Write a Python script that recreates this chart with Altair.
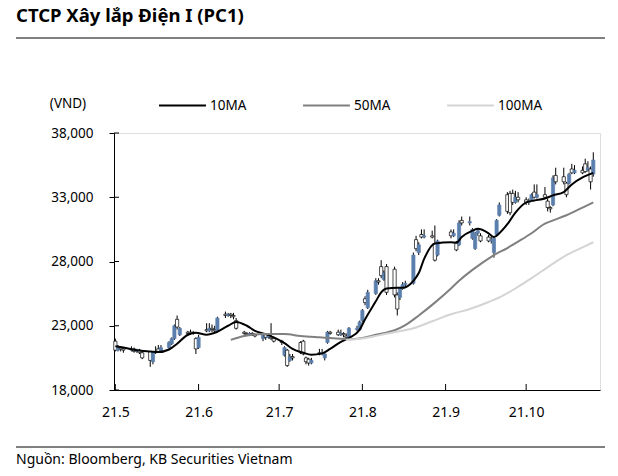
import altair as alt
import pandas as pd
import numpy as np

# ---------------- data (prices in thousand VND) ----------------
holidays = ["2021-09-02", "2021-09-03"]

opens = [
    # May
    21.8, 21.1, 21.3, 21.2, 21.1, 21.2, 21.0, 21.1, 20.9, 21.0, 20.2, 20.9, 21.2, 21.0, 21.3, 21.6, 22.0, 23.5, 22.3, 22.5,
    # June
    22.5, 22.4, 22.0, 21.3, 22.7, 22.6, 22.8, 22.7, 22.6, 23.9, 23.8, 23.9, 23.8, 23.4, 22.5, 22.4, 22.3, 22.4, 22.3, 22.0, 22.3, 22.1,
    # July
    22.1, 22.0, 21.8, 20.7, 21.1, 20.3, 20.6, 21.7, 21.8, 20.5, 20.4, 20.1, 20.9, 20.8, 20.5, 21.7, 22.5, 22.5, 22.3, 22.4, 22.2, 22.1,
    # August
    22.7, 22.7, 23.4, 25.1, 24.4, 25.5, 26.5, 27.6, 26.6, 27.6, 27.4, 25.4, 25.2, 25.9, 26.2, 26.3, 29.7, 28.7, 30.1, 29.9, 30.0, 29.4,
    # September
    28.5, 30.3, 30.0, 29.5, 29.3, 31.2, 31.0, 29.8, 29.0, 30.2, 30.0, 29.9, 29.6, 28.7, 30.1, 31.6, 33.2, 33.3, 33.3, 32.6,
    # October
    33.0, 32.8, 32.6, 32.8, 33.4, 33.0, 33.2, 32.7, 32.2, 32.4, 34.7, 34.6, 34.1, 34.1, 35.2, 34.9, 35.1, 35.6, 35.1, 35.2, 34.8,
]
closes = [
    21.1, 21.3, 21.2, 21.1, 21.2, 21.0, 21.1, 20.9, 20.5, 20.3, 20.9, 21.0, 21.0, 21.3, 21.7, 22.0, 23.0, 22.9, 22.8, 22.4,
    22.4, 22.5, 21.2, 22.1, 22.6, 22.8, 22.7, 22.6, 23.6, 23.8, 23.9, 23.8, 23.7, 22.8, 22.4, 22.3, 22.4, 22.3, 22.2, 22.3, 22.1, 22.2,
    22.0, 21.8, 21.7, 21.3, 19.9, 20.6, 20.5, 20.9, 20.8, 20.2, 20.1, 20.3, 20.8, 20.9, 20.8, 22.5, 22.4, 22.3, 22.4, 22.3, 22.1, 22.8,
    22.8, 23.3, 24.2, 24.8, 25.6, 26.5, 26.4, 26.9, 27.1, 25.6, 25.4, 24.3, 25.9, 26.2, 26.3, 28.5, 29.0, 29.3, 29.9, 30.0, 29.9, 28.1,
    29.6, 30.0, 30.2, 28.9, 31.0, 31.0, 31.1, 30.5, 30.2, 30.4, 29.6, 29.6, 29.7, 29.8, 31.2, 32.4, 31.9, 31.8, 32.6, 33.0,
    32.8, 32.6, 32.7, 33.2, 33.0, 33.2, 33.0, 32.2, 32.1, 34.5, 34.2, 34.2, 33.2, 34.8, 34.9, 35.1, 34.9, 35.0, 35.3, 34.2, 35.9,
]
highs = [
    22.0, 21.5, 21.4, 21.3, 21.4, 21.3, 21.2, 21.2, 21.0, 21.0, 21.0, 21.4, 21.5, 21.5, 21.8, 22.1, 23.1, 23.8, 22.9, 22.6,
    22.7, 22.6, 22.1, 22.3, 23.2, 23.2, 23.1, 23.0, 23.7, 24.1, 24.0, 24.0, 24.0, 23.6, 22.6, 22.5, 22.5, 22.5, 22.4, 22.4, 22.4, 22.3,
    23.2, 22.1, 21.9, 21.4, 21.2, 20.8, 20.8, 21.8, 21.9, 20.6, 20.5, 20.5, 21.2, 21.2, 20.9, 22.6, 22.6, 22.7, 22.7, 22.5, 22.4, 22.9,
    23.0, 23.4, 24.3, 25.3, 25.8, 26.7, 26.7, 28.1, 27.3, 27.8, 27.6, 25.6, 26.0, 26.4, 26.5, 28.7, 30.0, 29.5, 30.5, 30.5, 30.4, 30.8,
    29.7, 30.5, 30.5, 29.6, 31.2, 31.5, 31.5, 30.6, 30.3, 30.6, 30.2, 30.1, 29.9, 29.9, 31.3, 32.6, 33.4, 33.5, 33.6, 33.5,
    33.4, 33.0, 32.9, 33.3, 34.0, 34.0, 33.8, 32.9, 32.3, 34.7, 35.3, 35.3, 34.2, 34.9, 35.6, 35.5, 35.4, 36.0, 35.8, 35.4, 36.5,
]
lows = [
    21.0, 21.0, 21.0, 20.9, 21.0, 20.9, 20.9, 20.8, 20.4, 19.8, 20.0, 20.8, 20.9, 20.9, 21.2, 21.5, 21.9, 22.7, 22.2, 22.2,
    22.3, 22.3, 20.8, 21.2, 22.5, 22.5, 22.5, 22.5, 22.5, 23.6, 23.7, 23.6, 23.5, 22.7, 22.3, 22.2, 22.2, 22.2, 22.1, 21.8, 21.9, 22.0,
    21.9, 21.7, 21.5, 20.6, 19.8, 20.2, 20.3, 20.8, 20.7, 20.0, 19.9, 20.0, 20.7, 20.7, 20.3, 21.6, 22.3, 22.2, 22.2, 22.1, 22.0, 22.0,
    22.6, 22.6, 23.3, 24.6, 24.3, 25.4, 26.2, 26.7, 26.5, 25.4, 25.2, 23.8, 25.0, 25.8, 26.0, 26.2, 28.8, 28.5, 29.8, 29.8, 29.8, 28.0,
    28.4, 29.8, 29.9, 28.8, 29.2, 30.8, 30.8, 29.7, 28.9, 30.0, 29.5, 29.5, 29.4, 28.3, 30.0, 31.5, 31.7, 31.6, 32.4, 32.5,
    32.6, 32.4, 32.4, 32.7, 32.9, 32.9, 32.9, 31.9, 31.8, 32.3, 34.0, 34.0, 33.0, 34.0, 34.8, 34.8, 34.8, 34.9, 35.0, 33.6, 34.6,
]

ma10_dates = ["2021-05-04", "2021-05-07", "2021-05-12", "2021-05-17", "2021-05-20", "2021-05-24", "2021-05-27", "2021-05-31",
              "2021-06-03", "2021-06-07", "2021-06-10", "2021-06-15", "2021-06-18", "2021-06-22", "2021-06-25", "2021-06-29",
              "2021-07-02", "2021-07-06", "2021-07-09", "2021-07-13", "2021-07-16", "2021-07-20", "2021-07-23", "2021-07-27", "2021-07-30",
              "2021-08-03", "2021-08-05", "2021-08-09", "2021-08-11", "2021-08-13", "2021-08-17", "2021-08-19", "2021-08-23", "2021-08-25", "2021-08-27", "2021-08-31",
              "2021-09-06", "2021-09-08", "2021-09-10", "2021-09-14", "2021-09-16", "2021-09-20", "2021-09-22", "2021-09-24", "2021-09-27", "2021-09-30",
              "2021-10-04", "2021-10-07", "2021-10-11", "2021-10-14", "2021-10-18", "2021-10-21", "2021-10-25", "2021-10-29"]
ma10_vals = [21.4, 21.3, 21.1, 21.0, 20.95, 21.15, 21.6, 22.3,
             22.45, 22.3, 22.45, 23.0, 23.3, 23.0, 22.6, 22.35,
             22.1, 21.65, 21.2, 20.9, 20.75, 20.85, 21.2, 21.75, 22.05,
             22.7, 23.5, 24.9, 25.6, 25.9, 25.95, 25.95, 26.5, 27.1, 28.2, 29.4,
             29.5, 29.45, 29.9, 30.4, 30.55, 30.2, 29.9, 30.2, 30.9, 31.8,
             32.6, 32.75, 32.9, 33.15, 33.4, 34.0, 34.55, 34.9]

ma50_dates = ["2021-06-16", "2021-06-21", "2021-06-28", "2021-07-06", "2021-07-12", "2021-07-19", "2021-07-23", "2021-07-30",
              "2021-08-04", "2021-08-09", "2021-08-16", "2021-08-20", "2021-08-25", "2021-08-31",
              "2021-09-06", "2021-09-09", "2021-09-14", "2021-09-17", "2021-09-22", "2021-09-27",
              "2021-10-01", "2021-10-06", "2021-10-11", "2021-10-14", "2021-10-19", "2021-10-25", "2021-10-29"]
ma50_vals = [21.9, 22.2, 22.35, 22.35, 22.2, 22.1, 22.05, 21.95,
             22.05, 22.3, 22.65, 23.05, 23.8, 24.8,
             25.9, 26.5, 27.35, 27.8, 28.5, 29.05,
             29.55, 30.2, 30.95, 31.2, 31.6, 32.2, 32.6]

ma100_dates = ["2021-07-29", "2021-08-04", "2021-08-10", "2021-08-16", "2021-08-23", "2021-08-30",
               "2021-09-06", "2021-09-13", "2021-09-20", "2021-09-24", "2021-09-30",
               "2021-10-06", "2021-10-13", "2021-10-19", "2021-10-25", "2021-10-29"]
ma100_vals = [21.9, 22.0, 22.25, 22.5, 22.8, 23.35,
              23.9, 24.3, 24.85, 25.2, 25.9,
              26.7, 27.7, 28.5, 29.1, 29.5]

series_names = ["10MA", "50MA", "100MA"]
series_colors = ["#000000", "#808080", "#d4d4d4"]
series_widths = [2.0, 2.0, 2.6]

y_ticks = [18000, 23000, 28000, 33000, 38000]
month_ticks = ["2021-05-04", "2021-06-04", "2021-07-04", "2021-08-04", "2021-09-04", "2021-10-04"]

title_text = "CTCP Xây lắp Điện I (PC1)"
unit_text = "(VND)"
source_text = "Nguồn: Bloomberg, KB Securities Vietnam"

# ---------------- frames ----------------
days = pd.bdate_range("2021-05-04", "2021-10-29")
days = days[~days.isin(pd.to_datetime(holidays))]
df = pd.DataFrame({
    "date": days.strftime("%Y-%m-%d"),
    "open": np.array(opens) * 1000,
    "close": np.array(closes) * 1000,
    "high": np.array(highs) * 1000,
    "low": np.array(lows) * 1000,
})

ma_df = pd.concat([
    pd.DataFrame({"date": ma10_dates, "value": np.array(ma10_vals) * 1000, "series": "10MA"}),
    pd.DataFrame({"date": ma50_dates, "value": np.array(ma50_vals) * 1000, "series": "50MA"}),
    pd.DataFrame({"date": ma100_dates, "value": np.array(ma100_vals) * 1000, "series": "100MA"}),
])
ytick_df = pd.DataFrame({"v": y_ticks})
xtick_df = pd.DataFrame({"date": month_ticks})

# ---------------- layout ----------------
W, H = 486, 257
LEFT, TOP = 114, 133
FONT = "Noto Sans"

x_scale = alt.Scale(type="utc", padding=0,
                    domain=[alt.DateTime(year=2021, month=5, date=3, hours=12, utc=True),
                            alt.DateTime(year=2021, month=10, date=31, hours=12, utc=True)])
x_axis = alt.Axis(values=[alt.DateTime(year=2021, month=m, date=4, utc=True) for m in range(5, 11)],
                  labelExpr="utcFormat(datum.value, '%y') + '.' + (utcmonth(datum.value) + 1)",
                  ticks=False, tickSize=0, labelPadding=15, grid=False, title=None,
                  domainColor="black", domainWidth=1, labelFontSize=14, labelColor="black",
                  labelFont=FONT)
y_scale = alt.Scale(domain=[18000, 38000], nice=False, zero=False)
y_axis = alt.Axis(values=y_ticks, format=",.0f", tickSize=5, tickColor="black",
                  domainColor="black", domainWidth=1, labelPadding=16, grid=False, title=None,
                  labelFontSize=13.5, labelColor="black", labelFont=FONT)

def X(field="date"):
    return alt.X(f"{field}:T", scale=x_scale, axis=x_axis)

def Y(field):
    return alt.Y(f"{field}:Q", scale=y_scale, axis=y_axis)

up = "datum.close > datum.open"
BLUE = "#5b7fad"

wicks = alt.Chart(df).mark_rule(color="black", strokeWidth=1).encode(
    x=X(), y=Y("low"), y2="high:Q")

bodies = alt.Chart(df).mark_bar(size=3.2, strokeWidth=0.7).encode(
    x=X(), y=Y("open"), y2="close:Q",
    fill=alt.condition(up, alt.value(BLUE), alt.value("white")),
    stroke=alt.condition(up, alt.value(BLUE), alt.value("black")),
)

lines = alt.Chart(ma_df).mark_line(interpolate="monotone").encode(
    x=X(), y=Y("value"),
    color=alt.Color("series:N", sort=series_names,
                    scale=alt.Scale(domain=series_names, range=series_colors),
                    legend=alt.Legend(orient="none", legendX=44, legendY=-52, direction="horizontal",
                                      title=None, symbolType="stroke", symbolSize=2200,
                                      symbolStrokeWidth=2, labelFontSize=13.5, labelOffset=3,
                                      columnPadding=52, labelColor="black", labelFont=FONT)),
    strokeWidth=alt.StrokeWidth("series:N", scale=alt.Scale(domain=series_names, range=series_widths),
                                legend=None),
)

inner_yticks = alt.Chart(ytick_df).mark_rule(color="black", strokeWidth=1).encode(
    y=Y("v"), x=alt.value(0), x2=alt.value(5))

inner_xticks = alt.Chart(xtick_df).mark_rule(color="black", strokeWidth=1).encode(
    x=X(), y=alt.value(H), y2=alt.value(H - 6))

one = alt.Data(values=[{}])
title_mark = alt.Chart(one).mark_text(text=title_text, font=FONT, fontSize=18.5, fontWeight="bold",
                                      align="left", baseline="alphabetic", color="black").encode(
    x=alt.value(16 - LEFT), y=alt.value(22 - TOP))
title_rule = alt.Chart(one).mark_rule(color="black", strokeWidth=1).encode(
    x=alt.value(16 - LEFT), x2=alt.value(605 - LEFT), y=alt.value(38 - TOP))
unit_mark = alt.Chart(one).mark_text(text=unit_text, font=FONT, fontSize=13.5, align="center",
                                     baseline="middle", color="black").encode(
    x=alt.value(68 - LEFT), y=alt.value(104 - TOP))
foot_rule = alt.Chart(one).mark_rule(color="black", strokeWidth=1).encode(
    x=alt.value(16 - LEFT), x2=alt.value(605 - LEFT), y=alt.value(447 - TOP))
foot_mark = alt.Chart(one).mark_text(text=source_text, font=FONT, fontSize=14, align="left",
                                     baseline="alphabetic", color="black").encode(
    x=alt.value(16 - LEFT), y=alt.value(464 - TOP))

chart = alt.layer(
    wicks, bodies, lines, inner_yticks, inner_xticks,
    title_mark, title_rule, unit_mark, foot_rule, foot_mark,
).properties(
    width=W, height=H,
    autosize="none",
    padding={"left": LEFT, "top": TOP, "right": 618 - LEFT - W, "bottom": 476 - TOP - H},
    background="white",
).configure_view(stroke=None).configure(font=FONT)

chart.save("out.html", embed_options={"renderer": "svg", "actions": False})
